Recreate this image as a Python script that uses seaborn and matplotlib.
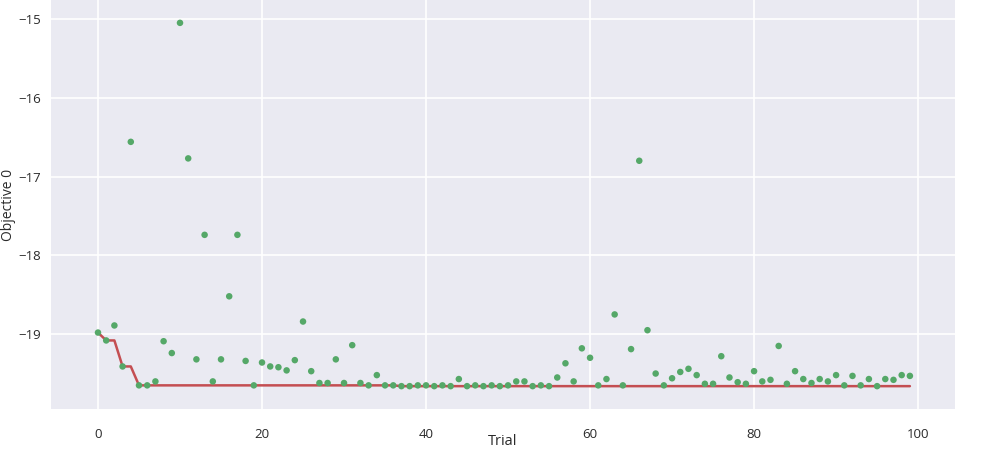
import seaborn as sns
import matplotlib.pyplot as plt
import numpy as np
import pandas as pd

# Objective value of each trial
objective_values = [
    -18.98, -19.08, -18.89, -19.41, -16.56, -19.65, -19.65, -19.60, -19.09, -19.24,
    -15.05, -16.77, -19.32, -17.74, -19.60, -19.32, -18.52, -17.74, -19.34, -19.65,
    -19.36, -19.41, -19.42, -19.46, -19.33, -18.84, -19.47, -19.62, -19.62, -19.32,
    -19.62, -19.14, -19.62, -19.65, -19.52, -19.65, -19.65, -19.66, -19.66, -19.65,
    -19.65, -19.66, -19.65, -19.66, -19.57, -19.66, -19.65, -19.66, -19.65, -19.66,
    -19.65, -19.60, -19.60, -19.66, -19.65, -19.66, -19.55, -19.37, -19.60, -19.18,
    -19.30, -19.65, -19.57, -18.75, -19.65, -19.19, -16.80, -18.95, -19.50, -19.65,
    -19.56, -19.48, -19.44, -19.52, -19.63, -19.63, -19.28, -19.55, -19.61, -19.63,
    -19.47, -19.60, -19.58, -19.15, -19.63, -19.47, -19.57, -19.62, -19.57, -19.60,
    -19.52, -19.65, -19.53, -19.65, -19.57, -19.66, -19.57, -19.58, -19.52, -19.53,
]
trials = np.arange(len(objective_values))
x_ticks = [0, 20, 40, 60, 80, 100]
y_ticks = [-15, -16, -17, -18, -19]

df = pd.DataFrame({'trial': trials, 'objective': objective_values})
df['best'] = df['objective'].cummin()

sns.set_theme(style='darkgrid')
plt.rcParams['font.family'] = ['Open Sans', 'DejaVu Sans']

fig = plt.figure(figsize=(10.05, 4.5), dpi=100)
ax = fig.add_axes([51/1005, 41/450, 904/1005, 409/450])

sns.scatterplot(data=df, x='trial', y='objective', color='#55A868', s=22,
                edgecolor='none', ax=ax, zorder=3)
sns.lineplot(data=df, x='trial', y='best', color='#C44E52', linewidth=1.8,
             ax=ax, zorder=2)

ax.set_xlim(-5.73, 104.5)
ax.set_ylim(-19.95, -14.76)
ax.set_xticks(x_ticks)
ax.set_yticks(y_ticks)
ax.set_yticklabels([f'\u2212{abs(v)}' for v in y_ticks])
ax.tick_params(axis='x', labelsize=9.5, colors='#2a2a2a', pad=8)
ax.tick_params(axis='y', labelsize=9.5, colors='#2a2a2a', pad=5)
ax.grid(color='white', linewidth=1.2)
for s in ax.spines.values():
    s.set_visible(False)

ax.set_xlabel('Trial', fontsize=10.5, color='#2a2a2a')
ax.set_ylabel('Objective 0', fontsize=10, color='#2a2a2a')
ax.xaxis.set_label_coords(0.5, -0.062)
ax.yaxis.set_label_coords(-0.038, 0.5)

# keep the y label inside the figure and its box clear of the tick labels
fig.canvas.draw()
r = fig.canvas.get_renderer()
lab = ax.yaxis.label.get_window_extent(r)
lab_x = -0.038 + (1 - lab.x0) / 904
ax.yaxis.set_label_coords(lab_x, 0.5)
fig.canvas.draw()
lab = ax.yaxis.label.get_window_extent(r)
tick_left = min(t.get_window_extent(r).x0 for t in ax.get_yticklabels() if t.get_text())
need = lab.x1 + 2 - tick_left
if need > 0:
    ax.tick_params(axis='y', pad=max(0.0, 5 - need * 0.72))

plt.savefig('out.png', dpi=100, facecolor='white')
